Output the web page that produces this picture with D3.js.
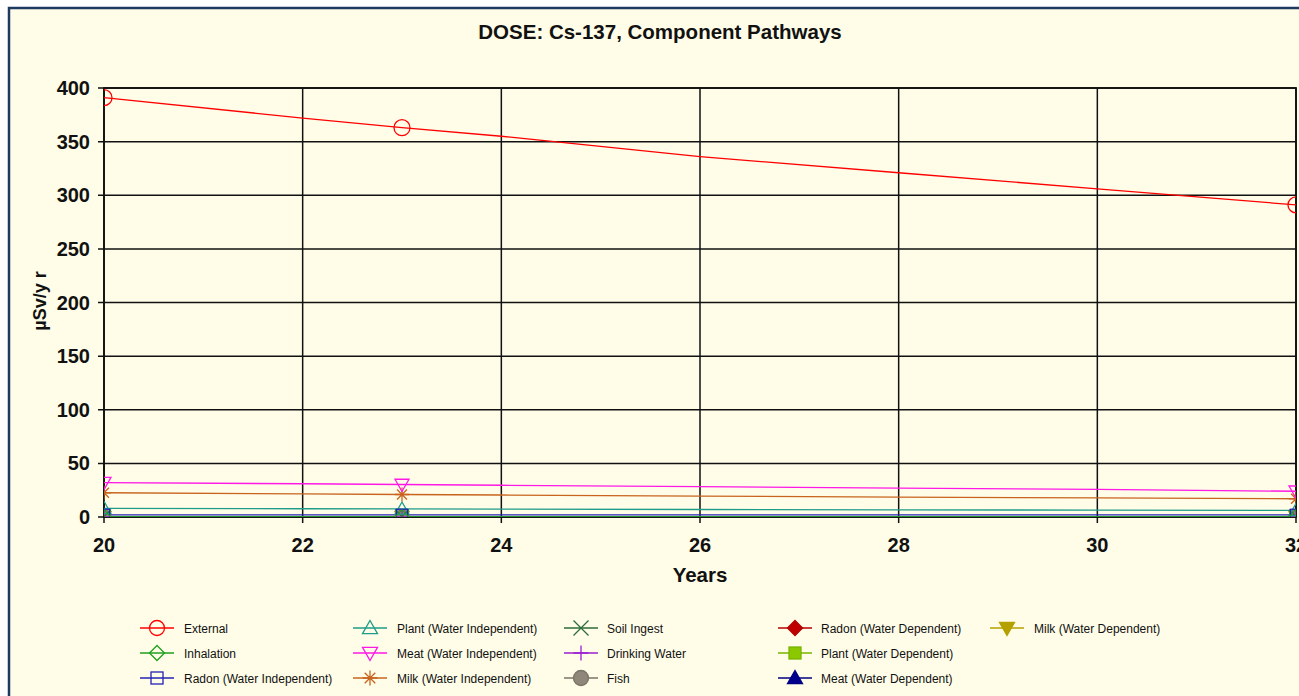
<!DOCTYPE html>
<html><head><meta charset="utf-8">
<script src="https://cdn.jsdelivr.net/npm/d3@7/dist/d3.min.js"></script>
<style>body{margin:0;background:#fff;overflow:hidden}svg{display:block}text{font-family:Arial,"Liberation Sans",sans-serif}</style>
</head><body>
<svg id="c" width="1299" height="696"></svg>
<script>
const years = [20, 22, 23, 24, 26, 28, 30, 32];
const markerYears = [20, 23, 32];
const external = [391, 372, 363, 355, 336, 321, 306, 291];
const inhalation = [0.1, 0.1, 0.1, 0.1, 0.1, 0.1, 0.1, 0.1];
const radonWI = [2, 2, 2, 2, 2, 2, 2, 2];
const plantWI = [8.1, 7.7, 7.5, 7.4, 7.0, 6.7, 6.4, 6.1];
const meatWI = [32, 31, 30.3, 29.6, 28.3, 27, 25.8, 24];
const milkWI = [22.6, 21.5, 21, 20.5, 19.5, 18.6, 17.8, 17];
const soilIngest = [0.4, 0.4, 0.4, 0.4, 0.4, 0.3, 0.3, 0.3];
const drinkingWater = [0, 0, 0, 0, 0, 0, 0, 0];
const fish = [0, 0, 0, 0, 0, 0, 0, 0];
const radonWD = [0, 0, 0, 0, 0, 0, 0, 0];
const plantWD = [0, 0, 0, 0, 0, 0, 0, 0];
const meatWD = [0, 0, 0, 0, 0, 0, 0, 0];
const milkWD = [0, 0, 0, 0, 0, 0, 0, 0];
const xTicks = [20, 22, 24, 26, 28, 30, 32];
const yTicks = [0, 50, 100, 150, 200, 250, 300, 350, 400];

const series = [
  {name:"External", values:external, color:"#ff0000", sym:"circle", fill:"none", col:0, row:0},
  {name:"Inhalation", values:inhalation, color:"#1fa01f", sym:"diamond", fill:"none", col:0, row:1},
  {name:"Radon (Water Independent)", values:radonWI, color:"#2323b4", sym:"square", fill:"none", col:0, row:2},
  {name:"Plant (Water Independent)", values:plantWI, color:"#1e9c8a", sym:"triUp", fill:"none", col:1, row:0},
  {name:"Meat (Water Independent)", values:meatWI, color:"#ff18e6", sym:"triDown", fill:"none", col:1, row:1},
  {name:"Milk (Water Independent)", values:milkWI, color:"#c8641e", sym:"star", fill:"none", col:1, row:2},
  {name:"Soil Ingest", values:soilIngest, color:"#2d6b3c", sym:"x", fill:"none", col:2, row:0},
  {name:"Drinking Water", values:drinkingWater, color:"#9b1fd0", sym:"plus", fill:"none", col:2, row:1},
  {name:"Fish", values:fish, color:"#7a7468", sym:"circle", fill:"#8e877a", col:2, row:2},
  {name:"Radon (Water Dependent)", values:radonWD, color:"#b40000", sym:"diamond", fill:"#c00000", col:3, row:0},
  {name:"Plant (Water Dependent)", values:plantWD, color:"#78b400", sym:"square", fill:"#8cc800", col:3, row:1},
  {name:"Meat (Water Dependent)", values:meatWD, color:"#000080", sym:"triUp", fill:"#00008c", col:3, row:2},
  {name:"Milk (Water Dependent)", values:milkWD, color:"#b4a000", sym:"triDown", fill:"#b4a000", col:4, row:0}
];

const svg = d3.select("#c");
svg.append("rect").attr("x",9).attr("y",8).attr("width",1320).attr("height",720)
  .attr("fill","#fffde8").attr("stroke","#1f3a60").attr("stroke-width",2.5);

const L = 104, R = 1296, T = 88, B = 517;
const x = d3.scaleLinear().domain([20,32]).range([L,R]);
const y = d3.scaleLinear().domain([0,400]).range([B,T]);

svg.append("text").attr("x",660).attr("y",39).attr("text-anchor","middle")
  .attr("font-size",20.5).attr("font-weight","bold").attr("fill","#111").text("DOSE: Cs-137, Component Pathways");

const g = svg.append("g");
g.selectAll("line.h").data(yTicks).join("line")
  .attr("x1",L-6).attr("x2",R).attr("y1",d=>y(d)).attr("y2",d=>y(d))
  .attr("stroke","#111").attr("stroke-width",1.5);
g.selectAll("line.v").data(xTicks).join("line")
  .attr("x1",d=>x(d)).attr("x2",d=>x(d)).attr("y1",T).attr("y2",B+6)
  .attr("stroke","#111").attr("stroke-width",1.5);
g.append("rect").attr("x",L).attr("y",T).attr("width",R-L).attr("height",B-T)
  .attr("fill","none").attr("stroke","#111").attr("stroke-width",1.8);

g.selectAll("text.yl").data(yTicks).join("text")
  .attr("x",90).attr("y",d=>y(d)+7).attr("text-anchor","end")
  .attr("font-size",20).attr("font-weight","bold").attr("fill","#111").text(d=>d);
g.selectAll("text.xl").data(xTicks).join("text")
  .attr("x",d=>x(d)).attr("y",552).attr("text-anchor","middle")
  .attr("font-size",20).attr("font-weight","bold").attr("fill","#111").text(d=>d);

svg.append("text").attr("x",700).attr("y",582).attr("text-anchor","middle")
  .attr("font-size",20.5).attr("font-weight","bold").attr("fill","#111").text("Years");
svg.append("text").attr("transform","translate(46,301) rotate(-90)").attr("text-anchor","middle")
  .attr("font-size",18).attr("font-weight","bold").attr("fill","#111").text("µSv/y r");

svg.append("clipPath").attr("id","clip").append("rect")
  .attr("x",L).attr("y",T-12).attr("width",R-L).attr("height",B-T+12);

function drawSym(sel, s, cx, cy, r){
  const c = s.color, f = s.fill, w = 1.3;
  if(s.sym==="circle") sel.append("circle").attr("cx",cx).attr("cy",cy).attr("r",r).attr("fill",f).attr("stroke",c).attr("stroke-width",w);
  else if(s.sym==="diamond") sel.append("path").attr("d",`M${cx},${cy-r}L${cx+r},${cy}L${cx},${cy+r}L${cx-r},${cy}Z`).attr("fill",f).attr("stroke",c).attr("stroke-width",w);
  else if(s.sym==="square") sel.append("rect").attr("x",cx-r*0.8).attr("y",cy-r*0.8).attr("width",r*1.6).attr("height",r*1.6).attr("fill",f).attr("stroke",c).attr("stroke-width",w);
  else if(s.sym==="triUp") sel.append("path").attr("d",`M${cx},${cy-r}L${cx+r},${cy+r*0.75}L${cx-r},${cy+r*0.75}Z`).attr("fill",f).attr("stroke",c).attr("stroke-width",w);
  else if(s.sym==="triDown") sel.append("path").attr("d",`M${cx-r},${cy-r*0.75}L${cx+r},${cy-r*0.75}L${cx},${cy+r}Z`).attr("fill",f).attr("stroke",c).attr("stroke-width",w);
  else if(s.sym==="star"){
    const p=[]; for(let i=0;i<4;i++){const a=i*Math.PI/4; p.push(`M${cx-r*Math.cos(a)},${cy-r*Math.sin(a)}L${cx+r*Math.cos(a)},${cy+r*Math.sin(a)}`);}
    sel.append("path").attr("d",p.join("")).attr("fill","none").attr("stroke",c).attr("stroke-width",w);
  }
  else if(s.sym==="x") sel.append("path").attr("d",`M${cx-r},${cy-r}L${cx+r},${cy+r}M${cx-r},${cy+r}L${cx+r},${cy-r}`).attr("fill","none").attr("stroke",c).attr("stroke-width",w);
  else if(s.sym==="plus") sel.append("path").attr("d",`M${cx-r},${cy}L${cx+r},${cy}M${cx},${cy-r}L${cx},${cy+r}`).attr("fill","none").attr("stroke",c).attr("stroke-width",w);
}

const pg = svg.append("g").attr("clip-path","url(#clip)");
const line = d3.line().x((d,i)=>x(years[i])).y(d=>y(d));
series.slice().reverse().forEach(s=>{
  pg.append("path").attr("d",line(s.values)).attr("fill","none").attr("stroke",s.color).attr("stroke-width",1.3);
});
series.slice().reverse().forEach(s=>{
  markerYears.forEach(yr=>{
    const i = years.indexOf(yr);
    drawSym(pg, s, x(yr), y(s.values[i]), s.name==="External"?8:7);
  });
});

const colSym = [157, 370, 581, 795, 1007];
const colTxt = [184, 397, 607, 821, 1034];
const rowY = [628, 653, 678];
const lg = svg.append("g");
series.forEach(s=>{
  const cx = colSym[s.col], cy = rowY[s.row];
  lg.append("line").attr("x1",cx-17).attr("x2",cx+17).attr("y1",cy).attr("y2",cy).attr("stroke",s.color).attr("stroke-width",1.3);
  drawSym(lg, s, cx, cy, 7.5);
  lg.append("text").attr("x",colTxt[s.col]).attr("y",cy+4.5).attr("font-size",12).attr("fill","#111").text(s.name);
});
</script>
</body></html>
